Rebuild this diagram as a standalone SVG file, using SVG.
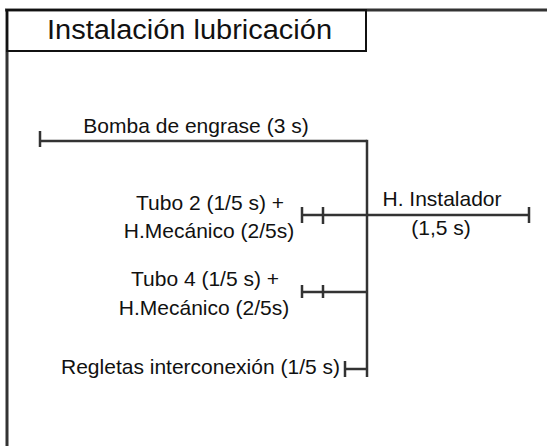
<svg xmlns="http://www.w3.org/2000/svg" width="547" height="446" viewBox="0 0 547 446">
<style>
text{font-family:"Liberation Sans",Arial,sans-serif;font-size:21px;fill:#111}
text.t{font-size:27px}
.ln{stroke:#333;stroke-width:2.5;fill:none}
.frame{stroke:#333;stroke-width:3;fill:none}
</style>
<rect width="547" height="446" fill="#fff"/>
<g id="frame">
<line class="frame" x1="5" y1="10" x2="547" y2="10"/>
<line class="frame" x1="7" y1="10" x2="7" y2="446"/>
</g>
<g id="title">
<rect x="7" y="10" width="359" height="41" fill="none" stroke="#111" stroke-width="2"/>
<text class="t" x="47" y="39" textLength="285" lengthAdjust="spacingAndGlyphs">Instalación lubricación</text>
</g>
<g id="connectors">
<line class="ln" x1="40" y1="141" x2="367" y2="141"/>
<line class="ln" x1="40" y1="131" x2="40" y2="147"/>
<line class="ln" x1="367" y1="139.8" x2="367" y2="377"/>
<line class="ln" x1="302" y1="215" x2="529" y2="215"/>
<line class="ln" x1="302" y1="207" x2="302" y2="223"/>
<line class="ln" x1="323" y1="207" x2="323" y2="224"/>
<line class="ln" x1="529" y1="207" x2="529" y2="223"/>
<line class="ln" x1="302" y1="292" x2="367" y2="292"/>
<line class="ln" x1="302" y1="285" x2="302" y2="298"/>
<line class="ln" x1="323" y1="285" x2="323" y2="298"/>
<line class="ln" x1="345" y1="369" x2="367" y2="369"/>
<line class="ln" x1="345" y1="361" x2="345" y2="377"/>
</g>
<g id="bomba">
<text x="196" y="133" text-anchor="middle">Bomba de engrase (3 s)</text>
</g>
<g id="tubo2">
<text x="210" y="210" text-anchor="middle">Tubo 2 (1/5 s) +</text>
<text x="209" y="238" text-anchor="middle">H.Mecánico (2/5s)</text>
</g>
<g id="tubo4">
<text x="205" y="286" text-anchor="middle">Tubo 4 (1/5 s) +</text>
<text x="204" y="315" text-anchor="middle">H.Mecánico (2/5s)</text>
</g>
<g id="instalador">
<text x="442" y="206" text-anchor="middle">H. Instalador</text>
<text x="441" y="235" text-anchor="middle">(1,5 s)</text>
</g>
<g id="regletas">
<text x="340" y="374" text-anchor="end">Regletas interconexión (1/5 s)</text>
</g>
</svg>
